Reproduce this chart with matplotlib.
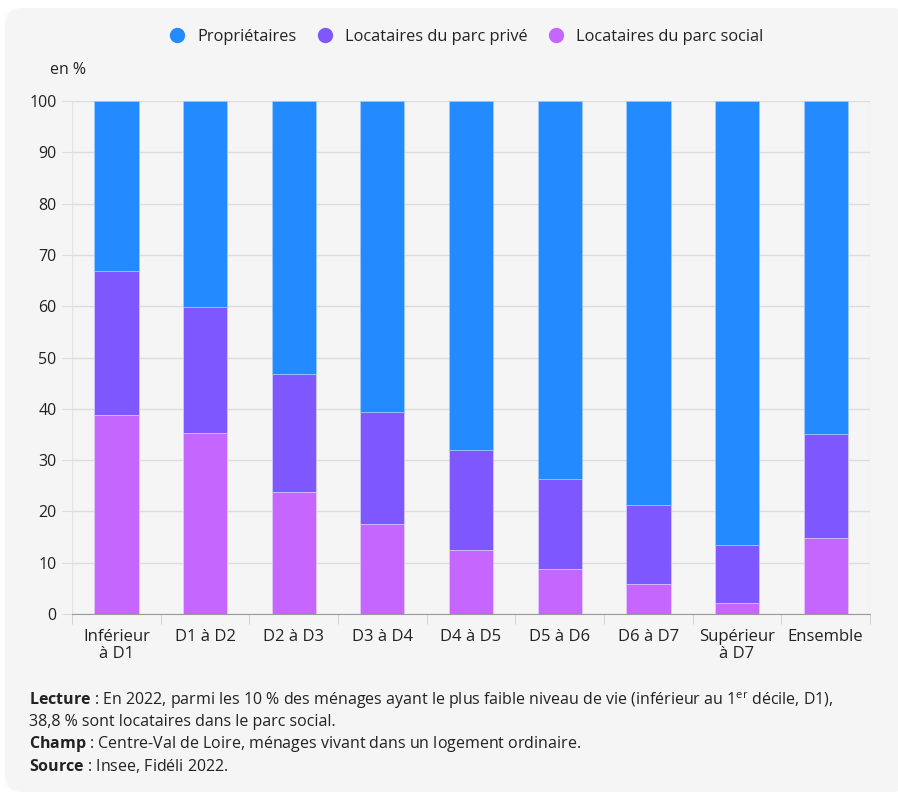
import numpy as np
import matplotlib.pyplot as plt
from matplotlib.patches import FancyBboxPatch
from matplotlib.lines import Line2D

plt.rcParams['font.family'] = ['Open Sans', 'DejaVu Sans']
plt.rcParams['mathtext.fontset'] = 'custom'
plt.rcParams['mathtext.rm'] = 'Open Sans'
plt.rcParams['mathtext.bf'] = 'Open Sans:bold'

# Données (en %)
categories = ["Inférieur\nà D1", "D1 à D2", "D2 à D3", "D3 à D4", "D4 à D5",
              "D5 à D6", "D6 à D7", "Supérieur\nà D7", "Ensemble"]
social = [38.8, 35.3, 23.7, 17.5, 12.5, 8.8, 5.8, 2.1, 14.8]
prive = [28.1, 24.6, 23.1, 21.8, 19.4, 17.5, 15.4, 11.3, 20.2]
proprietaires = [33.1, 40.1, 53.2, 60.7, 68.1, 73.7, 78.8, 86.6, 65.0]
series = ["Propriétaires", "Locataires du parc privé", "Locataires du parc social"]

c_prop = '#238AFF'
c_prive = '#7E57FF'
c_social = '#C466FF'
txt = '#222222'

fig = plt.figure(figsize=(8.98, 7.94), dpi=100)
fig.patch.set_facecolor('white')
fig.patches.append(FancyBboxPatch((5 / 898, 1 - 792 / 794), 905 / 898, 784 / 794,
                                  boxstyle="round,pad=0,rounding_size=0.02",
                                  transform=fig.transFigure, facecolor='#F5F5F5',
                                  edgecolor='none', zorder=-10))

ax = fig.add_axes([72 / 898, 1 - 614 / 794, 798 / 898, 513 / 794])
ax.set_facecolor('none')

x = np.arange(len(categories))
w = 0.5
ax.bar(x, social, w, color=c_social, edgecolor='#E6D6FF', linewidth=0.4, zorder=3)
ax.bar(x, prive, w, bottom=social, color=c_prive, edgecolor='#E0DAFF', linewidth=0.4, zorder=3)
bottom2 = np.array(social) + np.array(prive)
ax.bar(x, proprietaires, w, bottom=bottom2, color=c_prop, edgecolor='#A8D0FF', linewidth=0.4, zorder=3)

ax.set_xlim(-0.5, len(categories) - 0.5)
ax.set_ylim(0, 100)
ax.set_yticks(np.arange(0, 101, 10))
ax.grid(axis='y', color='#DCDCDC', linewidth=1, zorder=0)
ax.axvline(-0.5, color='#E4E4E4', linewidth=1, zorder=0)
ax.axvline(len(categories) - 0.5, color='#E4E4E4', linewidth=1, zorder=0)

for s in ['top', 'right', 'left']:
    ax.spines[s].set_visible(False)
ax.spines['bottom'].set_color('#9A9A9A')
ax.spines['bottom'].set_zorder(4)

ax.set_xticks(x)
ax.set_xticklabels(categories, fontsize=12, color=txt, linespacing=1.1)
ax.tick_params(axis='x', which='major', length=0, pad=11)
ax.set_xticks(np.arange(-0.5, len(categories), 1), minor=True)
ax.tick_params(axis='x', which='minor', length=7, color='#CCCCCC')
ax.tick_params(axis='y', length=7, color='#DCDCDC', labelsize=11.5, labelcolor=txt, pad=4)

fig.text(50 / 898, 1 - 70 / 794, "en %", fontsize=11.5, color=txt, va='center')

handles = [Line2D([], [], marker='o', linestyle='none', markersize=10, color=c)
           for c in [c_prop, c_prive, c_social]]
fig.legend(handles, series, loc='center', bbox_to_anchor=(462 / 898, 1 - 37 / 794), ncol=3,
           frameon=False, fontsize=11.8, handletextpad=0.25, columnspacing=0.7,
           labelcolor=txt)

notes = [
    r"$\mathbf{Lecture}$ : En 2022, parmi les 10 % des ménages ayant le plus faible niveau de vie (inférieur au 1$^{\mathrm{er}}$ décile, D1),",
    "38,8 % sont locataires dans le parc social.",
    r"$\mathbf{Champ}$ : Centre-Val de Loire, ménages vivant dans un logement ordinaire.",
    r"$\mathbf{Source}$ : Insee, Fidéli 2022.",
]
ys = [701, 722, 744, 766]
for t, yy in zip(notes, ys):
    fig.text(29 / 898, 1 - yy / 794, t, fontsize=11.5, color=txt, va='center')

fig.savefig('out.png', dpi=100, facecolor=fig.get_facecolor())
